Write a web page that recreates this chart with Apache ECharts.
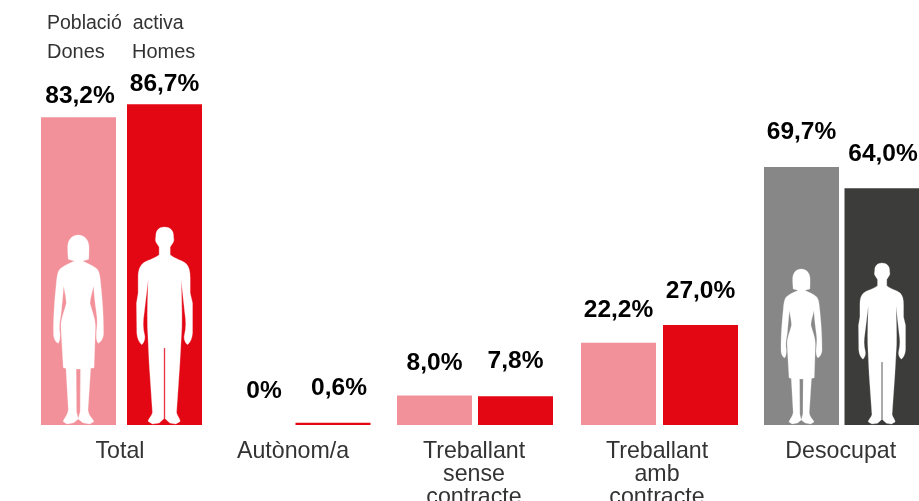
<!DOCTYPE html>
<html>
<head>
<meta charset="utf-8">
<style>
  html, body { margin: 0; padding: 0; background: #fff; overflow: hidden; }
  #chart { width: 919px; height: 501px; }
</style>
<script src="https://cdn.jsdelivr.net/npm/echarts@6/dist/echarts.min.js"></script>
</head>
<body>
<div id="chart"></div>
<script>
  // valors (%)
  const categories = ['Total', 'Autònom/a', 'Treballant\nsense\ncontracte', 'Treballant\namb\ncontracte', 'Desocupat']
  const sexes = ['Dones', 'Homes']
  const dones = [83.2, 0, 8.0, 22.2, 69.7]
  const homes = [86.7, 0.6, 7.8, 27.0, 64.0]
  const donesLabels = ['83,2%', '0%', '8,0%', '22,2%', '69,7%']
  const homesLabels = ['86,7%', '0,6%', '7,8%', '27,0%', '64,0%']

  // one small grid per group, the gaps in the original are not regular
  const groupLeft = [35.5, 219, 394, 577.5, 761.25]
  const groupWidth = [172, 152, 162, 164, 161]
  const donesLabelOffset = [[1.5, -3], [7, -16], [0, -15], [0, -15], [0, -17]]
  const homesLabelOffset = [[0, -2], [6, -17], [0, -17], [0, -16], [1, -16]]
  const namePadding = [3, 4, 2, 5, 2]
  const barColors = [
    ['#f29199', '#e30613'], ['#f29199', '#e30613'], ['#f29199', '#e30613'],
    ['#f29199', '#e30613'], ['#878787', '#3c3c3b']
  ]

  const womanPath = 'path://M141 45C122 45 110 60 110 82C110 98 111 110 112 118L130 123C115 130 100 136 88 146C80 154 78 170 76 195C72 235 68 280 68 340C68 352 72 366 82 370C87 362 88 350 87 338C84 325 86 305 90 285C93 255 96 225 98 197C101 215 106 235 106 250C100 275 90 295 90 320L97 443L105 445L112 570C108 590 97 597 97 605L108 612L128 608L141 597L136 575L135 447L148 447L147 575L141 597L155 608L175 612L187 605C187 597 172 590 170 570L178 445L188 443L192 320C192 295 182 275 176 250C176 235 183 215 187 197C188 225 192 255 196 285C199 305 196 325 195 338C194 350 195 362 200 370C210 366 216 352 216 340C216 280 212 235 208 195C206 170 204 154 196 146C184 136 168 130 154 123L172 118C173 110 173 98 173 82C173 60 160 45 141 45Z'
  const manPath = 'path://M401 22C385 22 375 32 375 48C375 55 372 62 376 68L385 82L385 105C370 118 345 122 335 132C325 142 322 155 322 175L322 220L317 250L318 340C319 355 324 368 333 375C340 368 344 355 341 345C336 325 336 305 340 280L352 180C351 225 349 275 350 320L355 430L365 578C362 590 352 597 352 605L365 613L385 610L399 597L399 385L403 385L403 597L417 610L435 613L448 605C448 597 440 590 437 578L447 430L453 320C454 275 452 225 451 180L462 280C466 305 466 325 461 345C458 355 462 368 470 375C479 368 484 355 485 340L485 250L478 220L478 175C478 155 475 142 466 132C456 122 432 118 418 105L418 82L427 68C431 62 428 55 428 48C428 32 417 22 401 22Z'
  // silhouettes only on Total (0) and Desocupat (4)
  const figures = {
    0: { woman: [50, 189], man: [56, 197] },
    4: { woman: [41, 155], man: [47, 161] }
  }

  const textFont = '"Liberation Sans", Arial, sans-serif'

  function barItem(value, color, text, offset) {
    return {
      value: value,
      itemStyle: { color: color },
      label: { show: true, position: 'top', distance: 5, offset: offset, formatter: text }
    }
  }

  const grids = []
  const xAxes = []
  const yAxes = []
  const series = []
  categories.forEach((name, i) => {
    grids.push({ left: groupLeft[i], width: groupWidth[i], top: 55, bottom: 76, outerBoundsMode: 'none' })
    xAxes.push({
      gridIndex: i,
      type: 'category',
      data: sexes,
      name: name,
      nameLocation: 'middle',
      nameGap: 15.5,
      nameTextStyle: {
        fontFamily: textFont, fontSize: 23.2, color: '#333', lineHeight: 23,
        verticalAlign: 'top', padding: [0, namePadding[i], 0, 0]
      },
      axisLine: { show: false },
      axisTick: { show: false },
      axisLabel: { show: false }
    })
    yAxes.push({ gridIndex: i, type: 'value', min: 0, max: 100, show: false })
    series.push({
      type: 'bar',
      xAxisIndex: i,
      yAxisIndex: i,
      barWidth: 75,
      label: { fontFamily: textFont, fontSize: 24.5, fontWeight: 'bold', color: '#000' },
      data: [
        barItem(dones[i], barColors[i][0], donesLabels[i], donesLabelOffset[i]),
        barItem(homes[i], barColors[i][1], homesLabels[i], homesLabelOffset[i])
      ]
    })
    if (figures[i]) {
      series.push({
        type: 'pictorialBar',
        xAxisIndex: i,
        yAxisIndex: i,
        z: 5,
        symbolPosition: 'start',
        symbolOffset: [0, 0],
        symbolKeepAspect: false,
        itemStyle: { color: '#fff', borderColor: '#fff', borderWidth: 1 },
        data: [
          { value: dones[i], symbol: womanPath, symbolSize: figures[i].woman },
          { value: homes[i], symbol: manPath, symbolSize: figures[i].man }
        ]
      })
    }
  })

  const headText = (text, x, y, size) => ({
    type: 'text',
    left: x,
    top: y,
    style: { text: text, fill: '#333', font: size + 'px ' + textFont }
  })

  const mychart = echarts.init(document.getElementById('chart'))
  mychart.setOption({
    animation: false,
    backgroundColor: '#fff',
    grid: grids,
    xAxis: xAxes,
    yAxis: yAxes,
    series: series,
    graphic: [
      headText('Població  activa', 47, 13.5, 19.5),
      headText('Dones', 47, 42, 20),
      headText('Homes', 132, 42, 20)
    ]
  })
</script>
</body>
</html>
